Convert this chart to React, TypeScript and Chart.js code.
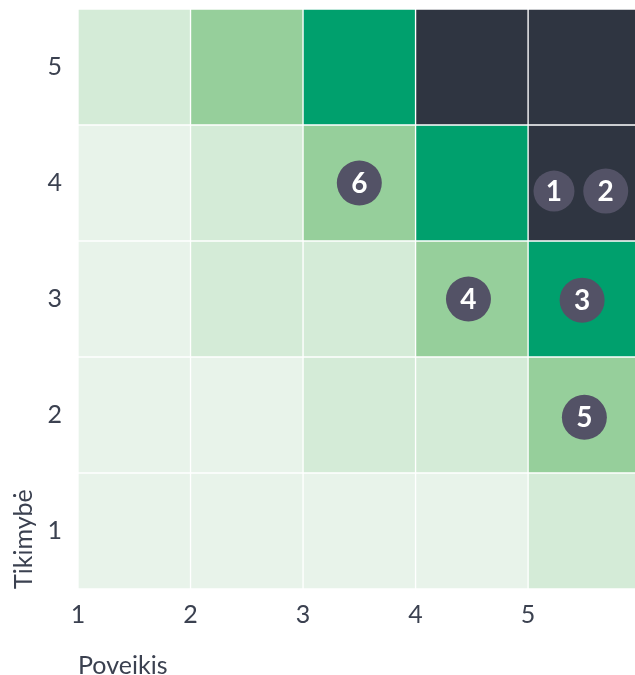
import { useEffect, useRef } from 'react';
import { Chart, registerables } from 'chart.js';

Chart.register(...registerables);

// Axis categories
const IMPACT = [1, 2, 3, 4, 5];
const LIKELIHOOD = [1, 2, 3, 4, 5];
const X_TICKS = [1, 2, 3, 4, 5];
const Y_TICKS = [1, 2, 3, 4, 5];

// Risk level of each cell, one row per likelihood (1 = bottom), columns follow IMPACT
const LEVELS_L1 = [1, 1, 1, 1, 2];
const LEVELS_L2 = [1, 1, 2, 2, 3];
const LEVELS_L3 = [1, 2, 2, 3, 4];
const LEVELS_L4 = [1, 2, 3, 4, 5];
const LEVELS_L5 = [2, 3, 4, 5, 5];
const LEVEL_ROWS = [LEVELS_L1, LEVELS_L2, LEVELS_L3, LEVELS_L4, LEVELS_L5];
const LEVEL_COLORS = ['#e8f3ea', '#d4ebd7', '#96cf9b', '#00a06d', '#2f3541'];

// Numbered risks placed on the matrix
const RISK_IDS = ['1', '2', '3', '4', '5', '6'];
const RISK_X = [5.23, 5.69, 5.48, 4.47, 5.5, 3.5];
const RISK_Y = [3.93, 3.93, 2.99, 3.0, 1.98, 4.0];
const RISK_R = [20.5, 22.5, 22.5, 22.5, 22.5, 22.5];

const X_TITLE = 'Poveikis';
const Y_TITLE = 'Tikimybė';

const FONT = 'Lato, "Noto Sans", sans-serif';
const TEXT_COLOR = '#3b4150';
const BUBBLE_COLOR = '#535266';

const bubbleLabels = {
  id: 'bubbleLabels',
  afterDatasetsDraw(chart: any) {
    const meta = chart.getDatasetMeta(0);
    const ctx = chart.ctx;
    ctx.save();
    ctx.fillStyle = '#ffffff';
    ctx.font = `bold 28px ${FONT}`;
    ctx.textAlign = 'center';
    ctx.textBaseline = 'middle';
    meta.data.forEach((el: any, i: number) => {
      ctx.fillText(RISK_IDS[i], el.x, el.y + 1);
    });
    ctx.restore();
  },
};

export default function App() {
  const canvasRef = useRef<HTMLCanvasElement | null>(null);

  useEffect(() => {
    const canvas = canvasRef.current;
    if (!canvas) return;

    const cells: any[] = [];
    const cellColors: string[] = [];
    LIKELIHOOD.forEach((lik, r) => {
      IMPACT.forEach((imp, c) => {
        cells.push({ x: imp + 0.5, y: [lik - 0.5, lik + 0.5] });
        cellColors.push(LEVEL_COLORS[LEVEL_ROWS[r][c] - 1]);
      });
    });

    const risks = RISK_IDS.map((_, i) => ({ x: RISK_X[i], y: RISK_Y[i], r: RISK_R[i] }));

    const chart = new Chart(canvas, {
      type: 'bar',
      data: {
        datasets: [
          {
            type: 'bubble',
            data: risks,
            backgroundColor: BUBBLE_COLOR,
            borderWidth: 0,
            order: 0,
          } as any,
          {
            type: 'bar',
            data: cells,
            backgroundColor: cellColors,
            borderColor: '#ffffff',
            borderWidth: 1,
            borderSkipped: false,
            barPercentage: 1,
            categoryPercentage: 1,
            order: 1,
          } as any,
        ],
      },
      options: {
        responsive: false,
        devicePixelRatio: 1,
        animation: false,
        events: [],
        layout: { autoPadding: false, padding: { left: 0, right: 0, top: 9, bottom: 0 } },
        plugins: {
          legend: { display: false },
          tooltip: { enabled: false },
        },
        scales: {
          x: {
            type: 'linear',
            min: 1,
            max: 5.95,
            offset: false,
            grid: { display: false, drawTicks: false, offset: false },
            border: { display: false },
            afterBuildTicks: (scale: any) => {
              scale.ticks = X_TICKS.map((v) => ({ value: v }));
            },
            afterFit: (scale: any) => {
              scale.height = 86;
              scale.paddingLeft = 0;
              scale.paddingRight = 0;
            },
            ticks: {
              padding: 11,
              color: TEXT_COLOR,
              font: { family: FONT, size: 25 },
              callback: (v: any) => String(v),
            },
            title: {
              display: true,
              text: X_TITLE,
              align: 'start',
              color: TEXT_COLOR,
              font: { family: FONT, size: 25, lineHeight: 1 },
              padding: { top: 0, bottom: -3 },
            },
          },
          y: {
            type: 'linear',
            min: 0.5,
            max: 5.5,
            stacked: false,
            grid: { display: false, drawTicks: false },
            border: { display: false },
            afterBuildTicks: (scale: any) => {
              scale.ticks = Y_TICKS.map((v) => ({ value: v }));
            },
            afterFit: (scale: any) => {
              scale.width = 78;
              scale.paddingTop = 0;
              scale.paddingBottom = 0;
            },
            ticks: {
              padding: 16,
              color: TEXT_COLOR,
              font: { family: FONT, size: 25 },
              callback: (v: any) => String(v),
            },
            title: {
              display: true,
              text: Y_TITLE,
              align: 'start',
              color: TEXT_COLOR,
              font: { family: FONT, size: 25, lineHeight: 1 },
              padding: { top: 11, bottom: 0 },
            },
          },
        },
      } as any,
      plugins: [bubbleLabels],
    });

    return () => chart.destroy();
  }, []);

  return (
    <div style={{ position: 'absolute', left: 0, top: 0, width: 635, height: 675 }}>
      <canvas ref={canvasRef} width={635} height={675} />
    </div>
  );
}
